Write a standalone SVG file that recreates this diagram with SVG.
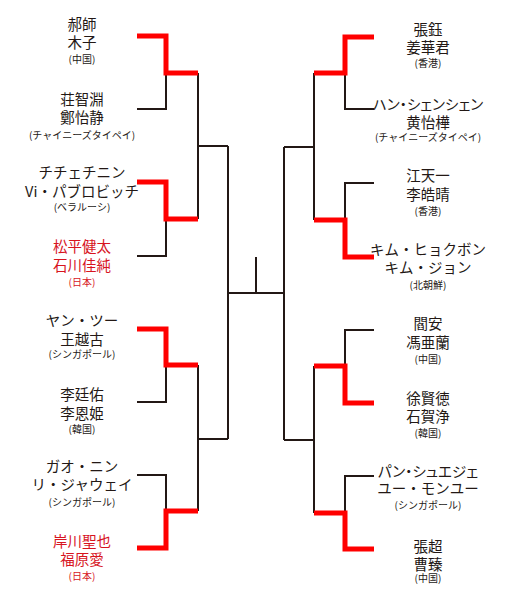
<svg xmlns="http://www.w3.org/2000/svg" width="512" height="600" viewBox="0 0 512 600">
<style>
.b{fill:none;stroke:#231815;stroke-width:2;stroke-linejoin:miter}
.r{fill:none;stroke:#ff0000;stroke-width:5;stroke-linejoin:miter}
text{font-family:"Noto Sans CJK JP","Noto Sans",sans-serif;text-anchor:middle;fill:#231815}
.n{font-size:14.5px}
.s{font-size:10px}
.p{font-feature-settings:"palt"}
.red text{fill:#d7141e}
</style>
<rect width="512" height="600" fill="#fff"/>
<g id="connectors">
<path class="b" d="M137,109H166V73 M198,73V219 M166,219V256H137 M198,146H228 M228,146V439 M198,439H228 M198,365V511 M137,402H166V365 M137,475H166V511 M228,293H284 M256,257V293"/>
<path class="b" d="M374,109H345V73 M314,73V220 M314,147H284 M284,147V440 M374,183H345V220 M314,366V513 M284,440H314 M374,330H345V366 M374,476H345V513"/>
<path class="r" d="M137,36H166V73H198 M137,182H166V219H198 M137,329H166V365H198 M198,511H166V548H137"/>
<path class="r" d="M374,37H345V73H314 M314,220H345V257H374 M314,366H345V403H374 M314,513H345V549H374"/>
</g>
<g id="L1"><text class="n" x="82" y="30">郝師</text><text class="n" x="82" y="48">木子</text><text class="s" x="82" y="63">(中国)</text></g>
<g id="L2"><text class="n" x="82" y="105">荘智淵</text><text class="n" x="82" y="123">鄭怡静</text><text class="s" x="82" y="139">(チャイニーズタイペイ)</text></g>
<g id="L3"><text class="n" x="82" y="178">チチェチニン</text><text class="n" x="82" y="197">Vi・パブロビッチ</text><text class="s" x="82" y="211">(ベラルーシ)</text></g>
<g id="L4" class="red"><text class="n" x="82" y="252">松平健太</text><text class="n" x="82" y="271">石川佳純</text><text class="s" x="82" y="286">(日本)</text></g>
<g id="L5"><text class="n" x="82" y="326">ヤン・ツー</text><text class="n" x="82" y="345">王越古</text><text class="s" x="82" y="358">(シンガポール)</text></g>
<g id="L6"><text class="n" x="82" y="400">李廷佑</text><text class="n" x="82" y="419">李恩姫</text><text class="s" x="82" y="433">(韓国)</text></g>
<g id="L7"><text class="n" x="82" y="472">ガオ・ニン</text><text class="n" x="82" y="490">リ・ジャウェイ</text><text class="s" x="82" y="506">(シンガポール)</text></g>
<g id="L8" class="red"><text class="n" x="82" y="547">岸川聖也</text><text class="n" x="82" y="565">福原愛</text><text class="s" x="82" y="580">(日本)</text></g>
<g id="R1"><text class="n" x="428" y="35">張鈺</text><text class="n" x="428" y="53">姜華君</text><text class="s" x="428" y="67">(香港)</text></g>
<g id="R2"><text class="n p" x="428" y="110">ハン・シェンシェン</text><text class="n" x="428" y="128">黄怡樺</text><text class="s" x="428" y="141">(チャイニーズタイペイ)</text></g>
<g id="R3"><text class="n" x="428" y="181">江天一</text><text class="n" x="428" y="200">李皓晴</text><text class="s" x="428" y="215">(香港)</text></g>
<g id="R4"><text class="n" x="428" y="255">キム・ヒョクボン</text><text class="n" x="428" y="273">キム・ジョン</text><text class="s" x="428" y="289">(北朝鮮)</text></g>
<g id="R5"><text class="n" x="428" y="329">閻安</text><text class="n" x="428" y="348">馮亜蘭</text><text class="s" x="428" y="363">(中国)</text></g>
<g id="R6"><text class="n" x="428" y="404">徐賢徳</text><text class="n" x="428" y="422">石賀浄</text><text class="s" x="428" y="437">(韓国)</text></g>
<g id="R7"><text class="n p" x="428" y="477">パン・シュエジェ</text><text class="n" x="428" y="494">ユー・モンユー</text><text class="s" x="428" y="509">(シンガポール)</text></g>
<g id="R8"><text class="n" x="428" y="552">張超</text><text class="n" x="428" y="570">曹臻</text><text class="s" x="428" y="582">(中国)</text></g>
</svg>
